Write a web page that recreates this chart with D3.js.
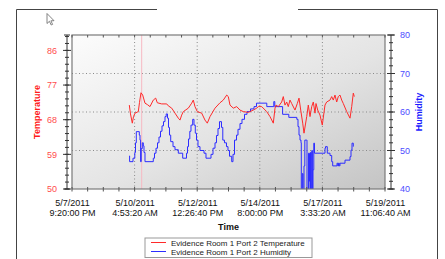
<!DOCTYPE html>
<html>
<head>
<meta charset="utf-8">
<script src="https://cdn.jsdelivr.net/npm/d3@7"></script>
<style>
  body { margin: 0; background: #fff; }
  svg { display: block; font-family: "Liberation Sans", Arial, sans-serif; }
</style>
</head>
<body>
<div id="container"></div>
<script>
/**
 * CONSTANTS AND GLOBALS
 * */
const width = 445,
    height = 259,
    margin = { top: 35, bottom: 70, left: 72, right: 60 };

// time axis runs 1,000,000 s from 5/7/2011 9:20 PM, labelled every 200,000 s
const startTime = new Date(2011, 4, 7, 21, 20, 0);
const xTickSeconds = [0, 200000, 400000, 600000, 800000, 1000000];
const tempTicks = [50, 59, 68, 77, 86];
const humTicks = [40, 50, 60, 70, 80];
const seriesNames = ["Evidence Room 1 Port 2 Temperature", "Evidence Room 1 Port 2 Humidity"];

// days after startTime, temperature readings
const tempDays = [2.119, 2.163, 2.230, 2.274, 2.330, 2.452, 2.496, 2.551, 2.614, 2.699, 2.792, 2.884,
    3.006, 3.095, 3.154, 3.317, 3.502, 3.561, 3.687, 3.809, 3.931, 3.994, 4.056, 4.116, 4.301, 4.426,
    4.485, 4.548, 4.633, 4.796, 4.918, 5.003, 5.103, 5.288, 5.473, 5.595, 5.721, 5.780, 5.842, 5.965,
    6.090, 6.212, 6.334, 6.519, 6.704, 6.830, 6.889, 7.015, 7.200, 7.322, 7.444, 7.507, 7.544, 7.629,
    7.754, 7.813, 7.876, 7.939, 7.998, 8.061, 8.124, 8.246, 8.331, 8.394, 8.457, 8.531, 8.579, 8.679,
    8.738, 8.801, 8.864, 8.923, 8.986, 9.023, 9.086, 9.170, 9.255, 9.355, 9.418, 9.540, 9.603, 9.662,
    9.725, 9.788, 9.847, 9.910, 9.973, 10.032, 10.158, 10.280, 10.343, 10.402, 10.439];
const tempValues = [71.8, 69.5, 67.1, 68.8, 69.7, 70.1, 72.5, 75.0, 74.4, 72.3, 71.9, 71.4,
    73.1, 73.6, 72.4, 72.1, 72.1, 71.6, 71.0, 69.7, 68.4, 67.9, 69.2, 70.1, 71.0, 72.3,
    73.1, 71.4, 70.1, 69.7, 67.9, 67.1, 68.8, 71.0, 72.4, 73.1, 74.4, 74.0, 71.8, 71.0,
    71.4, 70.5, 70.1, 69.9, 70.5, 71.0, 71.4, 71.4, 70.1, 68.8, 67.1, 71.0, 71.8, 71.4,
    72.6, 74.0, 71.8, 72.6, 71.4, 73.1, 72.2, 70.5, 72.2, 73.6, 70.5, 67.1, 64.5, 68.8,
    71.8, 68.8, 71.4, 72.6, 69.7, 72.2, 70.5, 69.2, 66.6, 71.8, 72.6, 73.1, 74.0, 73.1,
    74.4, 72.6, 74.0, 74.4, 73.1, 72.2, 70.1, 68.4, 71.4, 74.9, 74.0];

// days after startTime, humidity readings (stepped)
const humDays = [2.119, 2.130, 2.256, 2.322, 2.348, 2.378, 2.489, 2.515, 2.537, 2.559, 2.600, 2.637,
    2.662, 2.699, 3.006, 3.051, 3.106, 3.162, 3.217, 3.273, 3.328, 3.383, 3.439, 3.483, 3.531, 3.568,
    3.605, 3.650, 3.735, 3.809, 3.931, 4.093, 4.234, 4.271, 4.308, 4.356, 4.400, 4.463, 4.511, 4.559,
    4.604, 4.659, 4.733, 4.881, 4.955, 5.140, 5.214, 5.288, 5.343, 5.399, 5.454, 5.528, 5.576, 5.639,
    5.713, 5.768, 5.824, 5.905, 5.953, 6.009, 6.083, 6.138, 6.212, 6.286, 6.379, 6.471, 6.601, 6.730,
    6.822, 7.203, 7.462, 7.499, 7.788, 8.017, 8.313, 8.357, 8.394, 8.431, 8.468, 8.479, 8.516, 8.542,
    8.579, 8.609, 8.672, 8.690, 8.746, 8.782, 8.801, 8.819, 8.845, 8.867, 8.890, 8.912, 8.941, 8.967,
    9.355, 9.374, 9.440, 9.540, 9.603, 9.640, 9.799, 9.828, 9.855, 9.884, 9.910, 10.095, 10.280,
    10.317, 10.354, 10.402];
const humValues = [48.6, 47.1, 48.0, 49.5, 52.0, 54.9, 54.0, 52.7, 47.1, 50.5, 52.0, 51.2,
    49.5, 47.1, 48.0, 49.3, 50.6, 52.0, 53.5, 55.0, 56.4, 57.5, 58.8, 59.5, 58.4, 56.0,
    54.0, 52.3, 51.0, 50.2, 49.3, 48.0, 49.3, 51.0, 53.0, 55.0, 56.6, 58.1, 56.6, 54.5,
    52.7, 51.0, 50.0, 49.3, 48.0, 49.0, 50.6, 52.0, 53.9, 55.7, 57.5, 56.0, 52.7, 52.0,
    51.0, 50.0, 48.5, 47.1, 49.0, 52.7, 54.0, 55.5, 57.0, 58.1, 59.4, 60.1, 60.8, 61.4,
    62.3, 61.4, 62.7, 61.4, 59.4, 58.6, 58.1, 56.2, 54.0, 52.7, 52.0, 35, 44, 38,
    46, 52.7, 52.7, 35, 49.3, 42, 35, 49.5, 35, 50.0, 35, 45, 51.9, 49.3,
    50.6, 51.0, 49.3, 48.7, 47.1, 46.0, 46.7, 46.0, 46.7, 46.0, 46.7, 47.5, 48.4,
    50.1, 51.9, 51.0];

// faint marker line (days after startTime)
const markerDays = [2.577];

let svg, xScale, tempScale, humScale;

const dayToDate = d => new Date(startTime.getTime() + d * 86400000);

init();

function init() {
    const x0 = margin.left, x1 = width - margin.right,
        y0 = margin.top, y1 = height - margin.bottom;

    xScale = d3.scaleTime()
        .domain([startTime, new Date(startTime.getTime() + 1000000 * 1000)])
        .range([x0, x1]);
    tempScale = d3.scaleLinear().domain([50, 90]).range([y1, y0]);
    humScale = d3.scaleLinear().domain([40, 80]).range([y1, y0]);

    svg = d3.select("#container")
        .append("svg")
        .attr("width", width)
        .attr("height", height);

    const defs = svg.append("defs");
    const grad = defs.append("linearGradient")
        .attr("id", "bg").attr("x1", 0).attr("y1", 0).attr("x2", 1).attr("y2", 1);
    grad.append("stop").attr("offset", "0%").attr("stop-color", "#fcfcfc");
    grad.append("stop").attr("offset", "55%").attr("stop-color", "#e4e4e4");
    grad.append("stop").attr("offset", "100%").attr("stop-color", "#c4c4c4");
    defs.append("clipPath").attr("id", "plotclip")
        .append("rect").attr("x", x0).attr("y", y0).attr("width", x1 - x0).attr("height", y1 - y0);

    /* outer frame, open at the top middle */
    svg.append("path")
        .attr("d", `M157,9.5 H16.5 V${height} M298,9.5 H437.5 V${height}`)
        .attr("fill", "none").attr("stroke", "#444").attr("stroke-width", 1);

    /* mouse pointer */
    svg.append("path")
        .attr("transform", "translate(47,13.5)")
        .attr("d", "M0,0 L0,10 L2.4,7.8 L4.2,11.5 L5.6,10.9 L3.9,7.3 L7,7.2 Z")
        .attr("fill", "#fff").attr("stroke", "#666").attr("stroke-width", 0.8);

    /* plot background */
    svg.append("rect")
        .attr("x", x0).attr("y", y0).attr("width", x1 - x0).attr("height", y1 - y0)
        .attr("fill", "url(#bg)");

    /* gridlines */
    const xTickDates = xTickSeconds.map(s => new Date(startTime.getTime() + s * 1000));
    svg.append("g").selectAll("line")
        .data(xTickDates.slice(1, -1))
        .join("line")
        .attr("x1", d => xScale(d)).attr("x2", d => xScale(d))
        .attr("y1", y0).attr("y2", y1)
        .attr("stroke", "#8a8a8a").attr("stroke-dasharray", "1,2.5");
    svg.append("g").selectAll("line")
        .data(humTicks.slice(1, -1))
        .join("line")
        .attr("x1", x0).attr("x2", x1)
        .attr("y1", d => humScale(d)).attr("y2", d => humScale(d))
        .attr("stroke", "#8a8a8a").attr("stroke-dasharray", "1,2.5");

    /* marker */
    svg.append("g").selectAll("line")
        .data(markerDays)
        .join("line")
        .attr("x1", d => xScale(dayToDate(d))).attr("x2", d => xScale(dayToDate(d)))
        .attr("y1", y0).attr("y2", y1)
        .attr("stroke", "#f7b8c2").attr("stroke-width", 1);

    /* series */
    const tempData = tempDays.map((d, i) => ({ time: dayToDate(d), value: tempValues[i] }));
    const humData = humDays.map((d, i) => ({ time: dayToDate(d), value: humValues[i] }));

    const tempLine = d3.line()
        .x(d => xScale(d.time))
        .y(d => tempScale(d.value));
    const humLine = d3.line()
        .x(d => xScale(d.time))
        .y(d => humScale(d.value))
        .curve(d3.curveStepAfter);

    const lines = svg.append("g").attr("clip-path", "url(#plotclip)");
    lines.append("path")
        .datum(humData)
        .attr("d", humLine)
        .attr("fill", "none").attr("stroke", "#2d2dff").attr("stroke-width", 1);
    lines.append("path")
        .datum(tempData)
        .attr("d", tempLine)
        .attr("fill", "none").attr("stroke", "#ff2a2a").attr("stroke-width", 1);

    /* plot frame */
    svg.append("rect")
        .attr("x", x0).attr("y", y0).attr("width", x1 - x0).attr("height", y1 - y0)
        .attr("fill", "none").attr("stroke", "#7a7a7a").attr("stroke-width", 1.2);

    /* x ticks: top inward, bottom crossing */
    const xMinor = d3.range(0, 1000001, 50000).map(s => new Date(startTime.getTime() + s * 1000));
    const xt = svg.append("g").attr("stroke", "#555");
    xt.selectAll("line.top")
        .data(xMinor)
        .join("line").attr("class", "top")
        .attr("x1", d => xScale(d)).attr("x2", d => xScale(d))
        .attr("y1", y0).attr("y2", y0 + 2.5);
    xt.selectAll("line.bot")
        .data(xMinor)
        .join("line").attr("class", "bot")
        .attr("x1", d => xScale(d)).attr("x2", d => xScale(d))
        .attr("y1", y1 - 2).attr("y2", y1 + 2.5);

    const fmtDate = d3.timeFormat("%-m/%-d/%Y"),
        fmtTime = d3.timeFormat("%-I:%M:%S %p");
    const xAxis = d3.axisBottom(xScale)
        .tickValues(xTickDates)
        .tickSize(0)
        .tickFormat("");
    const xAxisGroup = svg.append("g")
        .attr("class", "x-axis")
        .attr("transform", `translate(0,${y1})`)
        .call(xAxis);
    xAxisGroup.select(".domain").remove();
    xAxisGroup.selectAll(".tick text").each(function (d) {
        const t = d3.select(this).attr("dy", null).attr("y", null)
            .attr("fill", "#111").style("font-size", "9px");
        t.append("tspan").attr("x", 0).attr("y", 16.5).text(fmtDate(d));
        t.append("tspan").attr("x", 0).attr("y", 27).text(fmtTime(d));
    });

    svg.append("text")
        .attr("x", (x0 + x1) / 2).attr("y", 230)
        .attr("text-anchor", "middle")
        .style("font-size", "9px").style("font-weight", "bold")
        .attr("fill", "#111")
        .text("Time");

    /* left axis (temperature) */
    const lx = 67;
    const yl = svg.append("g").attr("stroke", "#333");
    yl.append("line").attr("x1", lx).attr("x2", lx).attr("y1", y0).attr("y2", y1);
    yl.selectAll("line.cap").data([y0, y1]).join("line").attr("class", "cap")
        .attr("x1", lx - 3).attr("x2", lx + 3).attr("y1", d => d).attr("y2", d => d);
    yl.selectAll("line.minor").data(d3.range(50, 90, 1.8)).join("line").attr("class", "minor")
        .attr("x1", lx - 2).attr("x2", lx + 2)
        .attr("y1", d => tempScale(d)).attr("y2", d => tempScale(d));
    yl.selectAll("line.major").data(tempTicks).join("line").attr("class", "major")
        .attr("x1", lx - 4).attr("x2", lx + 4)
        .attr("y1", d => tempScale(d)).attr("y2", d => tempScale(d));

    const yAxis = d3.axisLeft(tempScale).tickValues(tempTicks).tickSize(0).tickPadding(10);
    const yAxisGroup = svg.append("g")
        .attr("class", "y-axis")
        .attr("transform", `translate(${lx},0)`)
        .call(yAxis);
    yAxisGroup.select(".domain").remove();
    yAxisGroup.selectAll("text").attr("fill", "#ff4d4d").style("font-size", "9px");

    svg.append("text")
        .attr("transform", `translate(39.5,${(y0 + y1) / 2}) rotate(-90)`)
        .attr("text-anchor", "middle")
        .style("font-size", "9px").style("font-weight", "bold")
        .attr("fill", "#ff1a1a")
        .text("Temperature");

    /* right axis (humidity) */
    const rx = 391;
    const yr = svg.append("g").attr("stroke", "#333");
    yr.append("line").attr("x1", rx).attr("x2", rx).attr("y1", y0).attr("y2", y1);
    yr.selectAll("line.cap").data([y0, y1]).join("line").attr("class", "cap")
        .attr("x1", rx - 3).attr("x2", rx + 3).attr("y1", d => d).attr("y2", d => d);
    yr.selectAll("line.minor").data(d3.range(40, 80, 2)).join("line").attr("class", "minor")
        .attr("x1", rx - 2).attr("x2", rx + 2)
        .attr("y1", d => humScale(d)).attr("y2", d => humScale(d));
    yr.selectAll("line.major").data(humTicks).join("line").attr("class", "major")
        .attr("x1", rx - 4).attr("x2", rx + 4)
        .attr("y1", d => humScale(d)).attr("y2", d => humScale(d));

    const y2Axis = d3.axisRight(humScale).tickValues(humTicks).tickSize(0).tickPadding(9);
    const y2AxisGroup = svg.append("g")
        .attr("class", "y2-axis")
        .attr("transform", `translate(${rx},0)`)
        .call(y2Axis);
    y2AxisGroup.select(".domain").remove();
    y2AxisGroup.selectAll("text").attr("fill", "#4d4dff").style("font-size", "9px");

    svg.append("text")
        .attr("transform", `translate(422,${(y0 + y1) / 2}) rotate(-90)`)
        .attr("text-anchor", "middle")
        .style("font-size", "9px").style("font-weight", "bold")
        .attr("fill", "#1a1aff")
        .text("Humidity");

    /* legend */
    const legend = svg.append("g");
    legend.append("rect")
        .attr("x", 145).attr("y", 238).attr("width", 167).attr("height", 19.5)
        .attr("fill", "#fff").attr("stroke", "#999").attr("stroke-width", 1);
    const colors = ["#ff2a2a", "#2d2dff"];
    const entries = legend.selectAll("g.entry")
        .data(seriesNames)
        .join("g").attr("class", "entry")
        .attr("transform", (d, i) => `translate(0,${242.5 + i * 9})`);
    entries.append("line")
        .attr("x1", 151).attr("x2", 166)
        .attr("stroke", (d, i) => colors[i]).attr("stroke-width", 1);
    entries.append("text")
        .attr("x", 171).attr("y", 3)
        .style("font-size", "8px")
        .attr("fill", "#222")
        .text(d => d);
}
</script>
</body>
</html>
